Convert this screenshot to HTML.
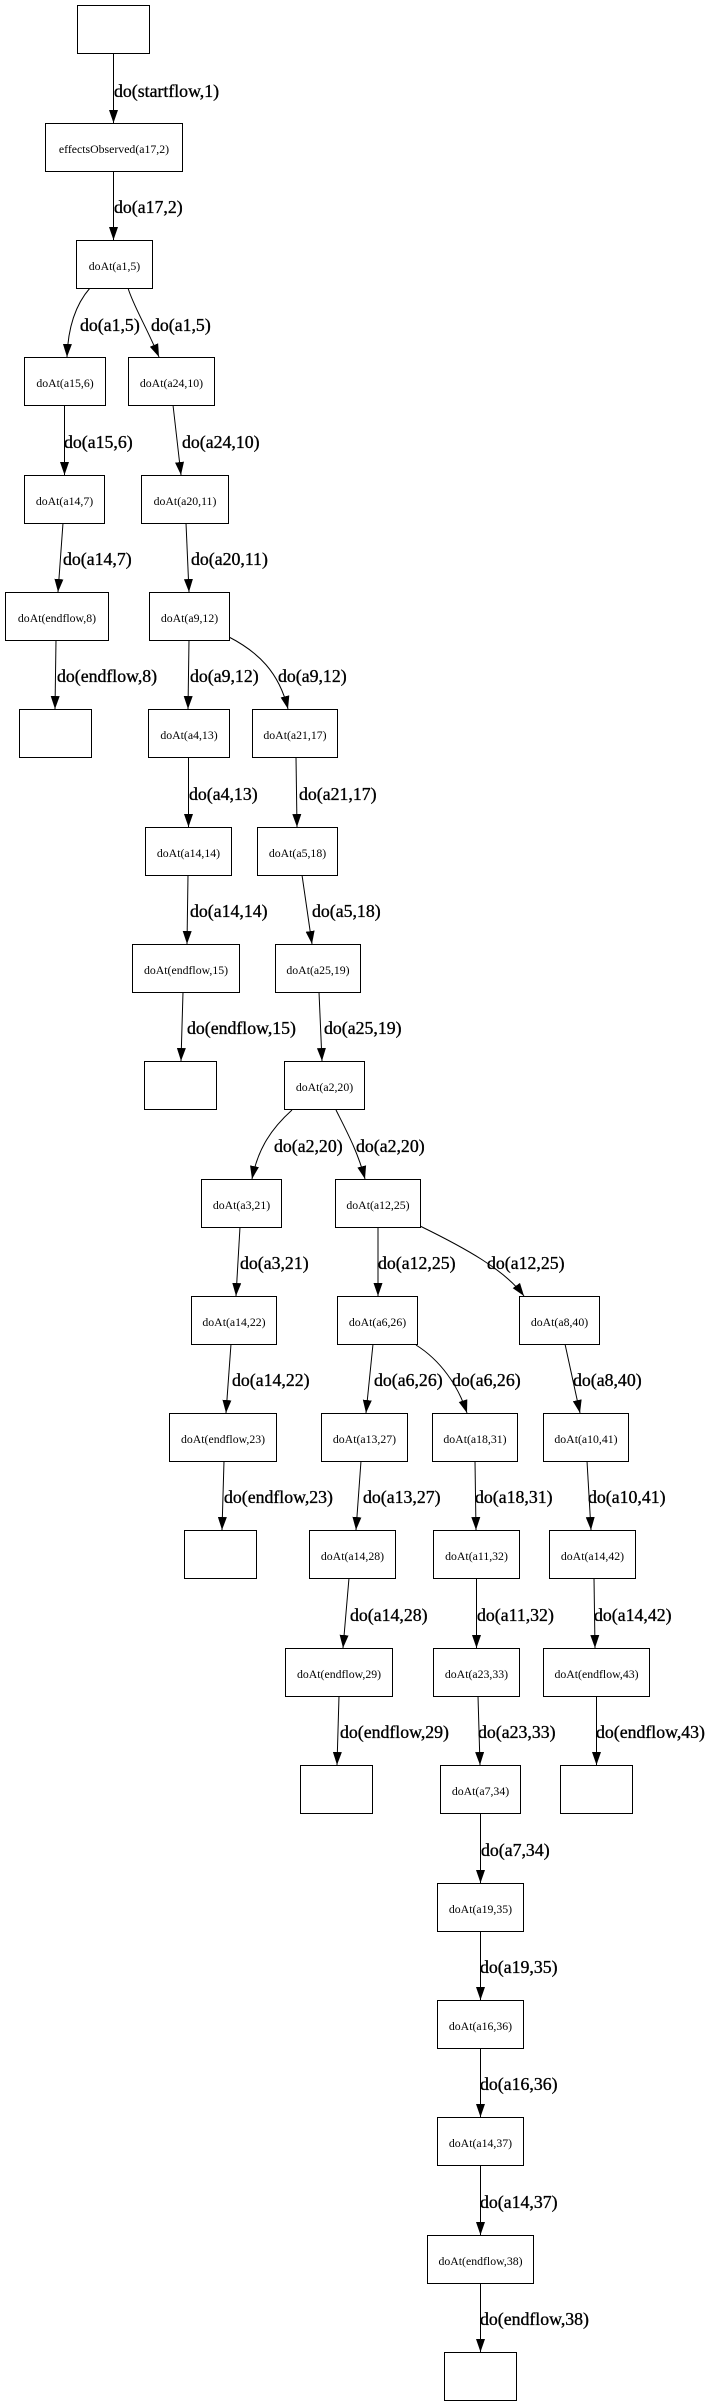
<!DOCTYPE html>
<html>
<head>
<meta charset="utf-8">
<style>
  html, body { margin: 0; padding: 0; background: #ffffff; }
  body { width: 713px; height: 2405px; overflow: hidden; }
  svg { display: block; }
  .n { fill: #ffffff; stroke: #000000; stroke-width: 1; }
  .e { fill: none; stroke: #000000; stroke-width: 1; }
  .nt { font-family: "Liberation Serif", "DejaVu Serif", serif; font-size: 11.8px; fill: #000; text-anchor: middle; }
  .et { font-family: "Liberation Serif", "DejaVu Serif", serif; font-size: 17.8px; fill: #000; stroke: #000; stroke-width: 0.35px; }
</style>
</head>
<body>
<svg width="713" height="2405" viewBox="0 0 713 2405" xmlns="http://www.w3.org/2000/svg">
  <defs>
    <marker id="ah" markerUnits="userSpaceOnUse" markerWidth="14" markerHeight="10" viewBox="0 0 14 10" refX="13" refY="5" orient="auto">
      <path d="M0,0.5 L13,5 L0,9.5 z" fill="#000"/>
    </marker>
  </defs>

  <!-- Edges -->
  <g class="e" marker-end="url(#ah)">
    <path d="M113.5,53 L113.5,123"/>
    <path d="M113.5,171 L113.5,240"/>
    <path d="M90,288 C76,304 68,326 67,357"/>
    <path d="M128,288 C133,305 146,326 159,357"/>
    <path d="M64.5,405 L64.5,475"/>
    <path d="M173,405 L181,475"/>
    <path d="M63,523 L58,592"/>
    <path d="M186,523 L189,592"/>
    <path d="M56,640 L55,709"/>
    <path d="M189,640 L188,709"/>
    <path d="M229,637 C258,652 279,672 288,709"/>
    <path d="M188.5,757 L188.5,827"/>
    <path d="M296,757 L297,827"/>
    <path d="M188,875 L187,944"/>
    <path d="M302,875 L312,944"/>
    <path d="M183,992 L181,1061"/>
    <path d="M319,992 L322,1061"/>
    <path d="M292,1110 C272,1128 258,1148 252,1179"/>
    <path d="M336,1110 C346,1130 358,1152 365,1179"/>
    <path d="M240,1227 L236,1296"/>
    <path d="M378,1227 L378,1296"/>
    <path d="M420,1226 C465,1248 505,1270 524,1296"/>
    <path d="M231,1344 L226,1413"/>
    <path d="M373,1344 L366,1413"/>
    <path d="M416,1345 C440,1360 458,1385 467,1413"/>
    <path d="M565,1344 L580,1413"/>
    <path d="M224,1461 L222,1530"/>
    <path d="M361,1461 L356,1530"/>
    <path d="M475,1461 L476,1530"/>
    <path d="M587,1461 L591,1530"/>
    <path d="M349,1578 L343,1648"/>
    <path d="M476.5,1578 L476.5,1648"/>
    <path d="M594,1578 L595,1648"/>
    <path d="M339,1696 L337,1765"/>
    <path d="M478,1696 L480,1765"/>
    <path d="M596.5,1696 L596.5,1765"/>
    <path d="M480.5,1813 L480.5,1883"/>
    <path d="M480.5,1931 L480.5,2000"/>
    <path d="M480.5,2048 L480.5,2117"/>
    <path d="M480.5,2165 L480.5,2235"/>
    <path d="M480.5,2283 L480.5,2352"/>
  </g>

  <!-- Nodes -->
  <g>
    <rect class="n" x="77.5" y="5.5" width="72" height="48"/>
    <rect class="n" x="45.5" y="123.5" width="137" height="48"/>
    <text class="nt" x="114" y="153">effectsObserved(a17,2)</text>
    <rect class="n" x="76.5" y="240.5" width="76" height="48"/>
    <text class="nt" x="114.5" y="270">doAt(a1,5)</text>
    <rect class="n" x="24.5" y="357.5" width="81" height="48"/>
    <text class="nt" x="65" y="387">doAt(a15,6)</text>
    <rect class="n" x="128.5" y="357.5" width="86" height="48"/>
    <text class="nt" x="171.5" y="387">doAt(a24,10)</text>
    <rect class="n" x="24.5" y="475.5" width="80" height="48"/>
    <text class="nt" x="64.5" y="505">doAt(a14,7)</text>
    <rect class="n" x="141.5" y="475.5" width="87" height="48"/>
    <text class="nt" x="185" y="505">doAt(a20,11)</text>
    <rect class="n" x="5.5" y="592.5" width="103" height="48"/>
    <text class="nt" x="57" y="622">doAt(endflow,8)</text>
    <rect class="n" x="149.5" y="592.5" width="80" height="48"/>
    <text class="nt" x="189.5" y="622">doAt(a9,12)</text>
    <rect class="n" x="19.5" y="709.5" width="72" height="48"/>
    <rect class="n" x="148.5" y="709.5" width="81" height="48"/>
    <text class="nt" x="189" y="739">doAt(a4,13)</text>
    <rect class="n" x="252.5" y="709.5" width="85" height="48"/>
    <text class="nt" x="295" y="739">doAt(a21,17)</text>
    <rect class="n" x="145.5" y="827.5" width="86" height="48"/>
    <text class="nt" x="188.5" y="857">doAt(a14,14)</text>
    <rect class="n" x="257.5" y="827.5" width="80" height="48"/>
    <text class="nt" x="297.5" y="857">doAt(a5,18)</text>
    <rect class="n" x="132.5" y="944.5" width="107" height="48"/>
    <text class="nt" x="186" y="974">doAt(endflow,15)</text>
    <rect class="n" x="275.5" y="944.5" width="85" height="48"/>
    <text class="nt" x="318" y="974">doAt(a25,19)</text>
    <rect class="n" x="144.5" y="1061.5" width="72" height="48"/>
    <rect class="n" x="284.5" y="1061.5" width="80" height="48"/>
    <text class="nt" x="324.5" y="1091">doAt(a2,20)</text>
    <rect class="n" x="201.5" y="1179.5" width="80" height="48"/>
    <text class="nt" x="241.5" y="1209">doAt(a3,21)</text>
    <rect class="n" x="335.5" y="1179.5" width="85" height="48"/>
    <text class="nt" x="378" y="1209">doAt(a12,25)</text>
    <rect class="n" x="191.5" y="1296.5" width="85" height="48"/>
    <text class="nt" x="234" y="1326">doAt(a14,22)</text>
    <rect class="n" x="337.5" y="1296.5" width="80" height="48"/>
    <text class="nt" x="377.5" y="1326">doAt(a6,26)</text>
    <rect class="n" x="519.5" y="1296.5" width="80" height="48"/>
    <text class="nt" x="559.5" y="1326">doAt(a8,40)</text>
    <rect class="n" x="169.5" y="1413.5" width="107" height="48"/>
    <text class="nt" x="223" y="1443">doAt(endflow,23)</text>
    <rect class="n" x="321.5" y="1413.5" width="86" height="48"/>
    <text class="nt" x="364.5" y="1443">doAt(a13,27)</text>
    <rect class="n" x="432.5" y="1413.5" width="85" height="48"/>
    <text class="nt" x="475" y="1443">doAt(a18,31)</text>
    <rect class="n" x="543.5" y="1413.5" width="85" height="48"/>
    <text class="nt" x="586" y="1443">doAt(a10,41)</text>
    <rect class="n" x="184.5" y="1530.5" width="72" height="48"/>
    <rect class="n" x="309.5" y="1530.5" width="86" height="48"/>
    <text class="nt" x="352.5" y="1560">doAt(a14,28)</text>
    <rect class="n" x="433.5" y="1530.5" width="86" height="48"/>
    <text class="nt" x="476.5" y="1560">doAt(a11,32)</text>
    <rect class="n" x="549.5" y="1530.5" width="86" height="48"/>
    <text class="nt" x="592.5" y="1560">doAt(a14,42)</text>
    <rect class="n" x="285.5" y="1648.5" width="107" height="48"/>
    <text class="nt" x="339" y="1678">doAt(endflow,29)</text>
    <rect class="n" x="433.5" y="1648.5" width="86" height="48"/>
    <text class="nt" x="476.5" y="1678">doAt(a23,33)</text>
    <rect class="n" x="543.5" y="1648.5" width="106" height="48"/>
    <text class="nt" x="596.5" y="1678">doAt(endflow,43)</text>
    <rect class="n" x="300.5" y="1765.5" width="72" height="48"/>
    <rect class="n" x="440.5" y="1765.5" width="80" height="48"/>
    <text class="nt" x="480.5" y="1795">doAt(a7,34)</text>
    <rect class="n" x="560.5" y="1765.5" width="72" height="48"/>
    <rect class="n" x="437.5" y="1883.5" width="86" height="48"/>
    <text class="nt" x="480.5" y="1913">doAt(a19,35)</text>
    <rect class="n" x="437.5" y="2000.5" width="86" height="48"/>
    <text class="nt" x="480.5" y="2030">doAt(a16,36)</text>
    <rect class="n" x="437.5" y="2117.5" width="86" height="48"/>
    <text class="nt" x="480.5" y="2147">doAt(a14,37)</text>
    <rect class="n" x="427.5" y="2235.5" width="106" height="48"/>
    <text class="nt" x="480.5" y="2265">doAt(endflow,38)</text>
    <rect class="n" x="444.5" y="2352.5" width="72" height="48"/>
  </g>

  <!-- Edge labels -->
  <g class="et">
    <text x="114" y="97">do(startflow,1)</text>
    <text x="114" y="213">do(a17,2)</text>
    <text x="80" y="331">do(a1,5)</text>
    <text x="151" y="331">do(a1,5)</text>
    <text x="64" y="448">do(a15,6)</text>
    <text x="182" y="448">do(a24,10)</text>
    <text x="63" y="565">do(a14,7)</text>
    <text x="191" y="565">do(a20,11)</text>
    <text x="57" y="682">do(endflow,8)</text>
    <text x="190" y="682">do(a9,12)</text>
    <text x="278" y="682">do(a9,12)</text>
    <text x="189" y="800">do(a4,13)</text>
    <text x="299" y="800">do(a21,17)</text>
    <text x="190" y="917">do(a14,14)</text>
    <text x="312" y="917">do(a5,18)</text>
    <text x="187" y="1034">do(endflow,15)</text>
    <text x="324" y="1034">do(a25,19)</text>
    <text x="274" y="1152">do(a2,20)</text>
    <text x="356" y="1152">do(a2,20)</text>
    <text x="240" y="1269">do(a3,21)</text>
    <text x="378" y="1269">do(a12,25)</text>
    <text x="487" y="1269">do(a12,25)</text>
    <text x="232" y="1386">do(a14,22)</text>
    <text x="374" y="1386">do(a6,26)</text>
    <text x="452" y="1386">do(a6,26)</text>
    <text x="573" y="1386">do(a8,40)</text>
    <text x="224" y="1503">do(endflow,23)</text>
    <text x="363" y="1503">do(a13,27)</text>
    <text x="475" y="1503">do(a18,31)</text>
    <text x="588" y="1503">do(a10,41)</text>
    <text x="350" y="1621">do(a14,28)</text>
    <text x="477" y="1621">do(a11,32)</text>
    <text x="594" y="1621">do(a14,42)</text>
    <text x="340" y="1738">do(endflow,29)</text>
    <text x="478" y="1738">do(a23,33)</text>
    <text x="596" y="1738">do(endflow,43)</text>
    <text x="481" y="1856">do(a7,34)</text>
    <text x="480" y="1973">do(a19,35)</text>
    <text x="480" y="2090">do(a16,36)</text>
    <text x="480" y="2208">do(a14,37)</text>
    <text x="480" y="2325">do(endflow,38)</text>
  </g>
</svg>
</body>
</html>
